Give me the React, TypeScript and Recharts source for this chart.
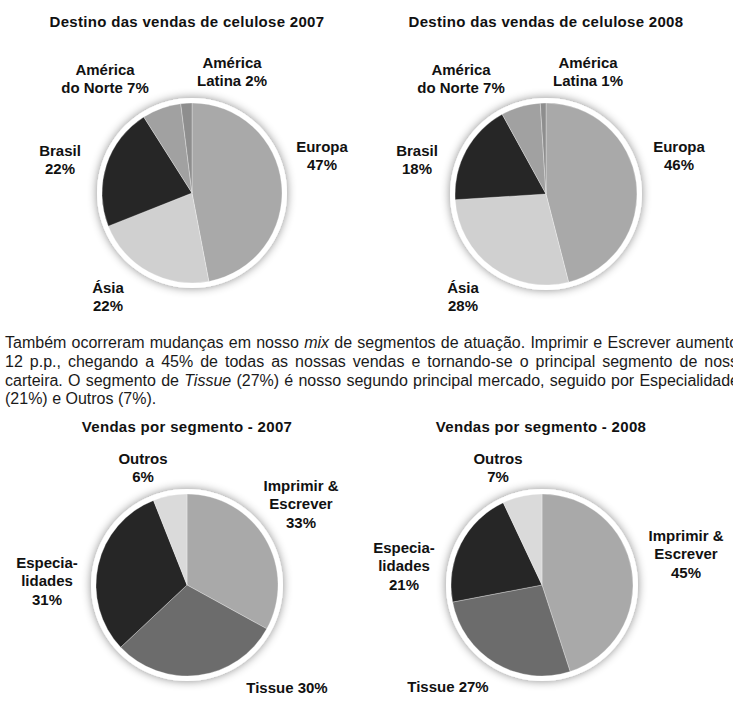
import { Cell, Pie, PieChart } from 'recharts';

const celuloseNames = ['Europa', 'Ásia', 'Brasil', 'América do Norte', 'América Latina'];
const celulose2007 = [47, 22, 22, 7, 2];
const celulose2008 = [46, 28, 18, 7, 1];
const celuloseLabels = ['Europa\n{v}%', 'Ásia\n{v}%', 'Brasil\n{v}%', 'América\ndo Norte {v}%', 'América\nLatina {v}%'];

const segmentNames = ['Imprimir & Escrever', 'Tissue', 'Especialidades', 'Outros'];
const segmento2007 = [33, 30, 31, 6];
const segmento2008 = [45, 27, 21, 7];
const segmentLabels = ['Imprimir &\nEscrever\n{v}%', 'Tissue {v}%', 'Especia-\nlidades\n{v}%', 'Outros\n{v}%'];

// |...| marks italic words
const paragraph = [
  'Também ocorreram mudanças em nosso |mix| de segmentos de atuação. Imprimir e Escrever aumentou',
  '12 p.p., chegando a 45% de todas as nossas vendas e tornando-se o principal segmento de nossa',
  'carteira. O segmento de |Tissue| (27%) é nosso segundo principal mercado, seguido por Especialidades',
  '(21%) e Outros (7%).',
];

const celuloseColors = ['#a9a9a9', '#d0d0d0', '#262626', '#a1a1a1', '#8e8e8e'];
const segmentColors = ['#a9a9a9', '#6c6c6c', '#262626', '#dadada'];

const font = '"Liberation Sans", Arial, Helvetica, sans-serif';
const textSize = 16;

// label position (first line centre) relative to the pie centre
const labelPos = {
  c2007: [[130, -47], [-84, 94], [-132, -43], [-87, -124], [40, -131]],
  c2008: [[133, -48], [-83, 93], [-129, -44], [-85, -125], [42, -132]],
  s2007: [[114, -100], [100, 102], [-140, -23], [-44, -127]],
  s2008: [[144, -50], [-94, 101], [-138, -38], [-44, -127]],
};

type PieProps = {
  id: string;
  left: number;
  top: number;
  width: number;
  height: number;
  cx: number;
  cy: number;
  r: number;
  names: string[];
  values: number[];
  colors: string[];
  labels: string[];
  pos: number[][];
};

function RingPie({ id, left, top, width, height, cx, cy, r, names, values, colors, labels, pos }: PieProps) {
  const data = names.map((name, i) => ({ name, value: values[i] }));

  const renderLabel = (props: any) => {
    const [dx, dy] = pos[props.index];
    const x = props.cx + dx;
    const y = props.cy + dy + 5.5;
    const lines = labels[props.index].replace('{v}', String(props.value)).split('\n');
    return (
      <text
        x={x}
        y={y}
        textAnchor="middle"
        fontFamily={font}
        fontWeight="bold"
        fontSize={15}
        fill="#111"
      >
        {lines.map((line, i) => (
          <tspan key={i} x={x} dy={i === 0 ? 0 : 18.5}>
            {line}
          </tspan>
        ))}
      </text>
    );
  };

  return (
    <div style={{ position: 'absolute', left, top }}>
      <PieChart width={width} height={height} margin={{ top: 0, right: 0, bottom: 0, left: 0 }}>
        <defs>
          <filter id={`shadow-${id}`} x="-30%" y="-30%" width="160%" height="160%">
            <feDropShadow dx="0" dy="0" stdDeviation="5" floodColor="#000" floodOpacity="0.45" />
          </filter>
        </defs>
        <Pie
          data={[{ name: 'ring', value: 1 }]}
          dataKey="value"
          cx={cx}
          cy={cy}
          outerRadius={r + 5}
          stroke="none"
          isAnimationActive={false}
        >
          <Cell fill="#ffffff" filter={`url(#shadow-${id})`} />
        </Pie>
        <Pie
          data={data}
          dataKey="value"
          cx={cx}
          cy={cy}
          outerRadius={r}
          startAngle={90}
          endAngle={-270}
          stroke="#ffffff"
          strokeWidth={0.6}
          strokeOpacity={0.5}
          label={renderLabel}
          labelLine={false}
          isAnimationActive={false}
        >
          {data.map((item, i) => (
            <Cell key={item.name} fill={colors[i]} />
          ))}
        </Pie>
      </PieChart>
    </div>
  );
}

function Title({ text, center, y }: { text: string; center: number; y: number }) {
  return (
    <div
      style={{
        position: 'absolute',
        left: center - 183,
        top: y - 9,
        width: 366,
        lineHeight: '18px',
        textAlign: 'center',
        fontFamily: font,
        fontWeight: 'bold',
        fontSize: 15,
        letterSpacing: 0.3,
        color: '#111',
        whiteSpace: 'nowrap',
      }}
    >
      {text}
    </div>
  );
}

// word spacing that stretches a line to the justified width
function wordSpacing(parts: string[], width: number) {
  const ctx = document.createElement('canvas').getContext('2d');
  if (!ctx) return 0;
  let total = 0;
  let spaces = 0;
  parts.forEach((p, j) => {
    ctx.font = `${j % 2 === 1 ? 'italic ' : ''}${textSize}px ${font}`;
    total += ctx.measureText(p).width;
    spaces += (p.match(/ /g) || []).length;
  });
  return spaces ? (width - total) / spaces : 0;
}

export default function App() {
  return (
    <div
      style={{
        position: 'absolute',
        left: 0,
        top: 0,
        width: 733,
        height: 703,
        background: '#fff',
        overflow: 'hidden',
      }}
    >
      <Title text="Destino das vendas de celulose 2007" center={187} y={22} />
      <Title text="Destino das vendas de celulose 2008" center={546} y={22} />
      <Title text="Vendas por segmento - 2007" center={187} y={427} />
      <Title text="Vendas por segmento - 2008" center={541} y={427} />

      <RingPie
        id="c2007"
        left={0}
        top={0}
        width={366}
        height={320}
        cx={192}
        cy={193}
        r={90}
        names={celuloseNames}
        values={celulose2007}
        colors={celuloseColors}
        labels={celuloseLabels}
        pos={labelPos.c2007}
      />
      <RingPie
        id="c2008"
        left={366}
        top={0}
        width={367}
        height={320}
        cx={180}
        cy={194}
        r={91}
        names={celuloseNames}
        values={celulose2008}
        colors={celuloseColors}
        labels={celuloseLabels}
        pos={labelPos.c2008}
      />
      <RingPie
        id="s2007"
        left={0}
        top={400}
        width={366}
        height={303}
        cx={187}
        cy={185}
        r={91}
        names={segmentNames}
        values={segmento2007}
        colors={segmentColors}
        labels={segmentLabels}
        pos={labelPos.s2007}
      />
      <RingPie
        id="s2008"
        left={366}
        top={400}
        width={367}
        height={303}
        cx={176}
        cy={185}
        r={91}
        names={segmentNames}
        values={segmento2008}
        colors={segmentColors}
        labels={segmentLabels}
        pos={labelPos.s2008}
      />

      {paragraph.map((line, i) => {
        const parts = line.split('|');
        const ws = i < 3 ? wordSpacing(parts, 742) : 0;
        return (
          <div
            key={i}
            style={{
              position: 'absolute',
              left: 5,
              top: 334 + i * 18.8,
              lineHeight: '18px',
              fontFamily: font,
              fontSize: textSize,
              color: '#1a1a1a',
              whiteSpace: 'nowrap',
              wordSpacing: ws,
            }}
          >
            {parts.map((part, j) =>
              j % 2 === 1 ? <i key={j}>{part}</i> : <span key={j}>{part}</span>
            )}
          </div>
        );
      })}
    </div>
  );
}
